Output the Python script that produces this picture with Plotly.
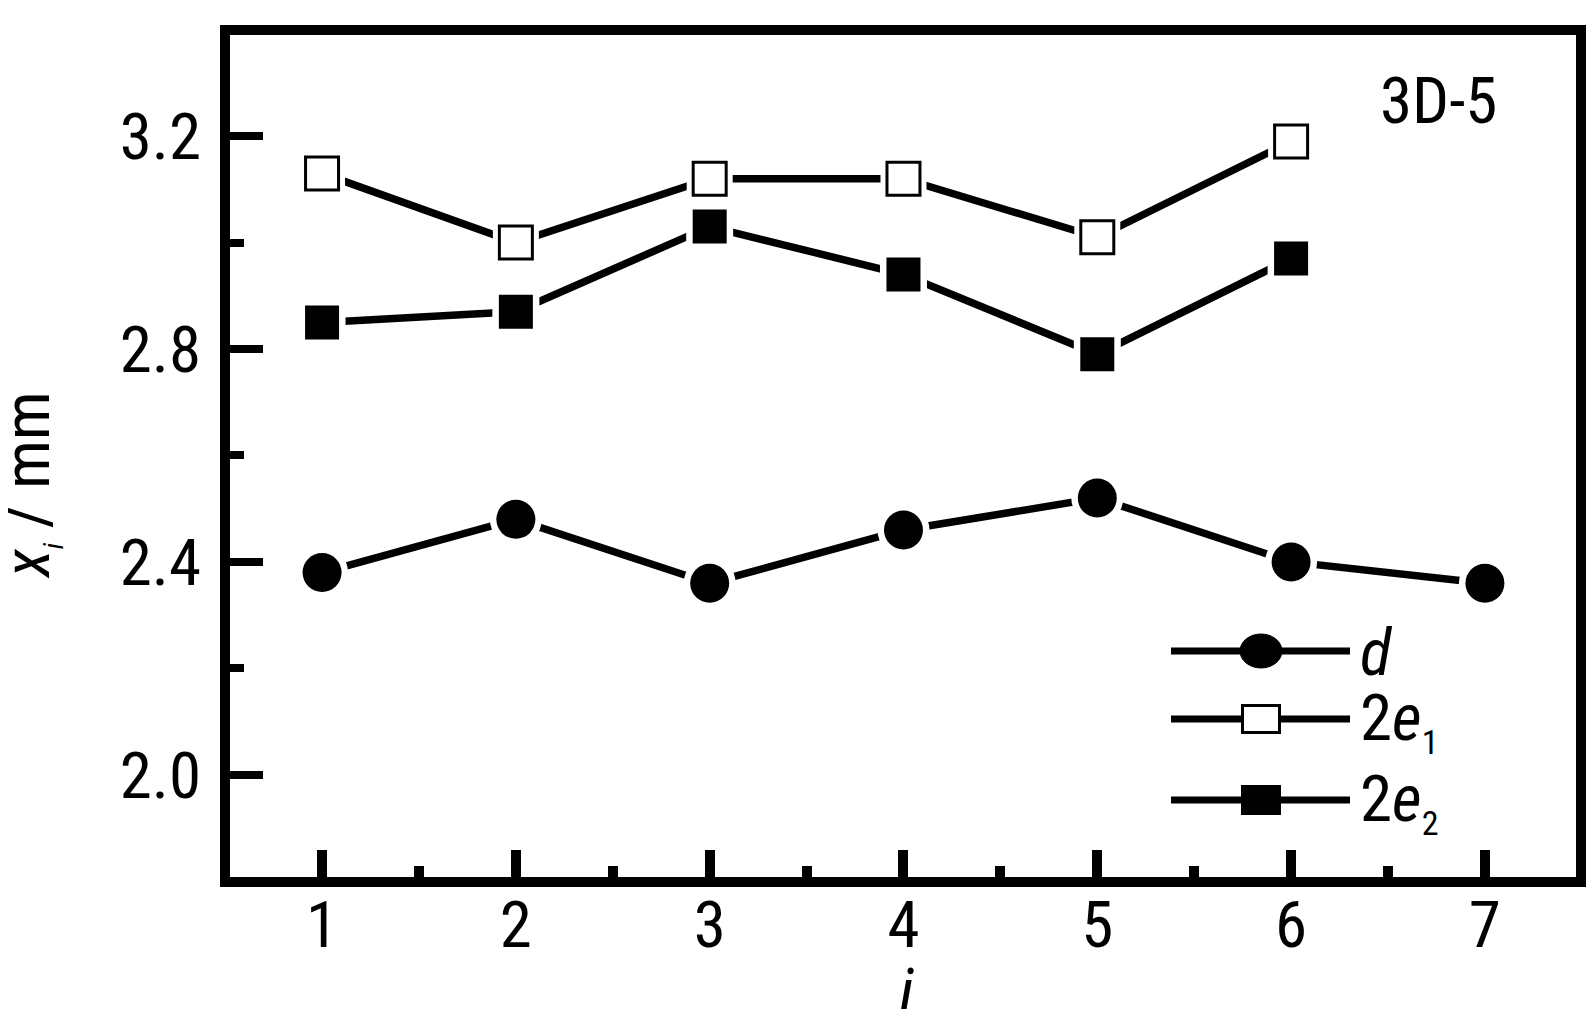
import plotly.graph_objects as go

# ---- data ----
i_vals = [1, 2, 3, 4, 5, 6, 7]
d_vals = [2.38, 2.48, 2.36, 2.46, 2.52, 2.40, 2.36]
i_e = [1, 2, 3, 4, 5, 6]
e1_vals = [3.13, 3.00, 3.12, 3.12, 3.01, 3.19]
e2_vals = [2.85, 2.87, 3.03, 2.94, 2.79, 2.97]
y_ticks = [2.0, 2.4, 2.8, 3.2]
y_ticklabels = ["2.0", "2.4", "2.8", "3.2"]
x_ticks = [1, 2, 3, 4, 5, 6, 7]

FONT = "Liberation Sans Narrow, Arial Narrow, Roboto Condensed, Liberation Sans, Arial"
FS = 65
W, H = 1595, 1009
L, R, T, B = 222, 1568, 27, 869   # plot area in pixels

def px_x(p):
    return (p - L) / (R - L)

def px_y(p):
    return (B - p) / (B - T)

fig = go.Figure()

series = [
    (i_vals, d_vals, "circle", 39, "black", 0),
    (i_e, e1_vals, "square", 33, "white", 3),
    (i_e, e2_vals, "square", 34, "black", 0),
]

for xs, ys, sym, sz, fill, lw in series:
    fig.add_trace(go.Scatter(x=xs, y=ys, mode="lines",
                             line=dict(color="black", width=7.5),
                             showlegend=False, hoverinfo="skip"))
for xs, ys, sym, sz, fill, lw in series:
    fig.add_trace(go.Scatter(x=xs, y=ys, mode="markers",
                             marker=dict(symbol=sym, size=sz + 13, color="white",
                                         line=dict(width=0)),
                             showlegend=False, hoverinfo="skip"))
for xs, ys, sym, sz, fill, lw in series:
    fig.add_trace(go.Scatter(x=xs, y=ys, mode="markers",
                             marker=dict(symbol=sym, size=sz, color=fill,
                                         line=dict(width=lw, color="black")),
                             showlegend=False))

# ---- custom legend ----
shapes = []
annotations = []
SUB = "<sub><span style='font-size:34px'>%s</span></sub>"
leg_rows = [
    (643, "circle", "black", "<i>d</i>"),
    (711, "rect", "white", "2<i>e</i>" + SUB % "1"),
    (792, "rect", "black", "2<i>e</i>" + SUB % "2"),
]
for yy, kind, fill, label in leg_rows:
    shapes.append(dict(type="line", xref="paper", yref="paper",
                       x0=px_x(1163), x1=px_x(1342), y0=px_y(yy), y1=px_y(yy),
                       line=dict(color="black", width=7)))
    if kind == "circle":
        shapes.append(dict(type="circle", xref="paper", yref="paper",
                           x0=px_x(1232), x1=px_x(1274), y0=px_y(yy - 17), y1=px_y(yy + 17),
                           fillcolor="black", line=dict(color="black", width=1)))
    else:
        shapes.append(dict(type="rect", xref="paper", yref="paper",
                           x0=px_x(1234.5), x1=px_x(1271.5), y0=px_y(yy - 13.5), y1=px_y(yy + 13.5),
                           fillcolor=fill, line=dict(color="black", width=3)))
    annotations.append(dict(text=label, xref="paper", yref="paper",
                            x=px_x(1350), y=px_y(yy + 2), xanchor="left", yanchor="middle",
                            showarrow=False, font=dict(family=FONT, size=FS, color="black")))

annotations.append(dict(text="3D-5", xref="paper", yref="paper",
                        x=px_x(1430), y=px_y(93), xanchor="center", yanchor="middle",
                        showarrow=False, font=dict(family=FONT, size=FS, color="black")))
annotations.append(dict(text="<i>x</i><sub><i><span style='font-size:28px'>i</span></i></sub> / mm",
                        xref="paper", yref="paper", textangle=-90,
                        x=px_x(21), y=px_y(477), xanchor="center", yanchor="middle",
                        showarrow=False, font=dict(family=FONT, size=FS, color="black")))
annotations.append(dict(text="<i>i</i>", xref="paper", yref="paper",
                        x=px_x(898), y=px_y(984), xanchor="center", yanchor="middle",
                        showarrow=False, font=dict(family=FONT, size=FS, color="black")))

fig.update_layout(
    width=W, height=H,
    margin=dict(l=L, r=W - R, t=T, b=H - B),
    plot_bgcolor="white", paper_bgcolor="white",
    showlegend=False,
    shapes=shapes, annotations=annotations,
    font=dict(family=FONT, size=FS, color="black"),
)
fig.update_xaxes(range=[0.525, 7.47], tickvals=x_ticks, ticktext=[str(v) for v in x_ticks],
                 ticks="inside", ticklen=27, tickwidth=10, tickcolor="black",
                 minor=dict(ticks="inside", ticklen=11, tickwidth=10, tickcolor="black", dtick=0.5),
                 showline=True, linewidth=10, linecolor="black", mirror=True,
                 showgrid=False, zeroline=False, ticklabelstandoff=-18,
                 tickfont=dict(family=FONT, size=FS, color="black"))
fig.update_yaxes(range=[1.808, 3.39], tickvals=y_ticks, ticktext=y_ticklabels,
                 ticks="inside", ticklen=33, tickwidth=8, tickcolor="black",
                 minor=dict(ticks="inside", ticklen=14, tickwidth=8, tickcolor="black",
                            tickvals=[2.2, 2.6, 3.0]),
                 showline=True, linewidth=10, linecolor="black", mirror=True,
                 showgrid=False, zeroline=False, ticklabelstandoff=6,
                 tickfont=dict(family=FONT, size=FS, color="black"))

fig.write_html("out.html")
